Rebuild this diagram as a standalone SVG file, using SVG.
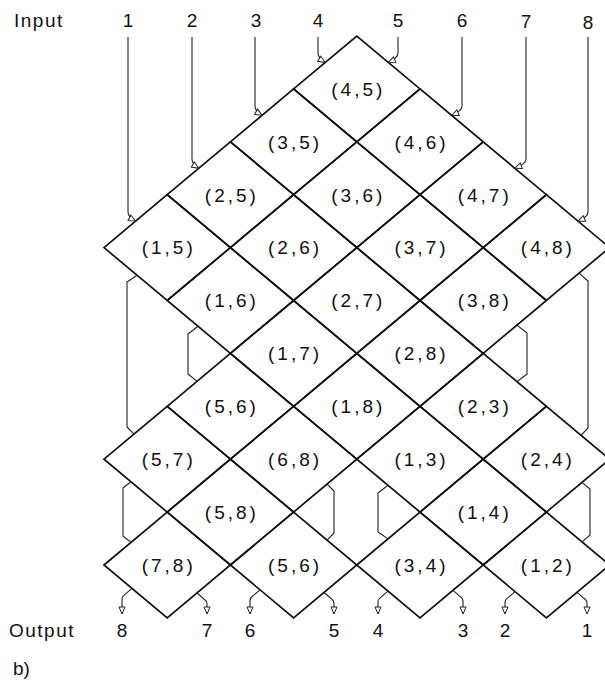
<svg xmlns="http://www.w3.org/2000/svg" width="605" height="683" viewBox="0 0 605 683">
<style>
.cell{fill:none;stroke:#111;stroke-width:1.7;stroke-linejoin:miter}
.lbl{font-family:"Liberation Sans",Arial,sans-serif;font-size:19px;letter-spacing:3px;text-anchor:middle;fill:#111}
.num{font-family:"Liberation Sans",Arial,sans-serif;font-size:19px;text-anchor:middle;fill:#111}
.cap{font-family:"Liberation Sans",Arial,sans-serif;font-size:19px;fill:#111}
.wire{fill:none;stroke:#222;stroke-width:1.1;stroke-linejoin:round}
.in{marker-end:url(#ah)}
</style>
<defs>
<marker id="ah" markerWidth="10" markerHeight="8" refX="8" refY="4" orient="auto" markerUnits="userSpaceOnUse">
<path d="M1,1 L8,4 L1,7 Z" fill="#fff" stroke="#222" stroke-width="1"/>
</marker>
</defs>
<rect width="605" height="683" fill="#fff"/>

<g id="n45"><polygon class="cell" points="293.6,88.9 356.8,36 420,88.9 356.8,141.8"/><text class="lbl" x="358.3" y="95.7">(4,5)</text></g>
<g id="n35"><polygon class="cell" points="230.4,141.8 293.6,88.9 356.8,141.8 293.6,194.7"/><text class="lbl" x="295.1" y="148.6">(3,5)</text></g>
<g id="n46"><polygon class="cell" points="356.8,141.8 420,88.9 483.2,141.8 420,194.7"/><text class="lbl" x="421.5" y="148.6">(4,6)</text></g>
<g id="n25"><polygon class="cell" points="167.2,194.7 230.4,141.8 293.6,194.7 230.4,247.6"/><text class="lbl" x="231.9" y="201.5">(2,5)</text></g>
<g id="n36"><polygon class="cell" points="293.6,194.7 356.8,141.8 420,194.7 356.8,247.6"/><text class="lbl" x="358.3" y="201.5">(3,6)</text></g>
<g id="n47"><polygon class="cell" points="420,194.7 483.2,141.8 546.4,194.7 483.2,247.6"/><text class="lbl" x="484.7" y="201.5">(4,7)</text></g>
<g id="n15"><polygon class="cell" points="104,247.6 167.2,194.7 230.4,247.6 167.2,300.5"/><text class="lbl" x="168.7" y="254.4">(1,5)</text></g>
<g id="n26"><polygon class="cell" points="230.4,247.6 293.6,194.7 356.8,247.6 293.6,300.5"/><text class="lbl" x="295.1" y="254.4">(2,6)</text></g>
<g id="n37"><polygon class="cell" points="356.8,247.6 420,194.7 483.2,247.6 420,300.5"/><text class="lbl" x="421.5" y="254.4">(3,7)</text></g>
<g id="n48"><polygon class="cell" points="483.2,247.6 546.4,194.7 609.6,247.6 546.4,300.5"/><text class="lbl" x="547.9" y="254.4">(4,8)</text></g>
<g id="n16"><polygon class="cell" points="167.2,300.5 230.4,247.6 293.6,300.5 230.4,353.4"/><text class="lbl" x="231.9" y="307.3">(1,6)</text></g>
<g id="n27"><polygon class="cell" points="293.6,300.5 356.8,247.6 420,300.5 356.8,353.4"/><text class="lbl" x="358.3" y="307.3">(2,7)</text></g>
<g id="n38"><polygon class="cell" points="420,300.5 483.2,247.6 546.4,300.5 483.2,353.4"/><text class="lbl" x="484.7" y="307.3">(3,8)</text></g>
<g id="n17"><polygon class="cell" points="230.4,353.4 293.6,300.5 356.8,353.4 293.6,406.3"/><text class="lbl" x="295.1" y="360.2">(1,7)</text></g>
<g id="n28"><polygon class="cell" points="356.8,353.4 420,300.5 483.2,353.4 420,406.3"/><text class="lbl" x="421.5" y="360.2">(2,8)</text></g>
<g id="n56a"><polygon class="cell" points="167.2,406.3 230.4,353.4 293.6,406.3 230.4,459.2"/><text class="lbl" x="231.9" y="413.1">(5,6)</text></g>
<g id="n18"><polygon class="cell" points="293.6,406.3 356.8,353.4 420,406.3 356.8,459.2"/><text class="lbl" x="358.3" y="413.1">(1,8)</text></g>
<g id="n23"><polygon class="cell" points="420,406.3 483.2,353.4 546.4,406.3 483.2,459.2"/><text class="lbl" x="484.7" y="413.1">(2,3)</text></g>
<g id="n57"><polygon class="cell" points="104,459.2 167.2,406.3 230.4,459.2 167.2,512.1"/><text class="lbl" x="168.7" y="466">(5,7)</text></g>
<g id="n68"><polygon class="cell" points="230.4,459.2 293.6,406.3 356.8,459.2 293.6,512.1"/><text class="lbl" x="295.1" y="466">(6,8)</text></g>
<g id="n13"><polygon class="cell" points="356.8,459.2 420,406.3 483.2,459.2 420,512.1"/><text class="lbl" x="421.5" y="466">(1,3)</text></g>
<g id="n24"><polygon class="cell" points="483.2,459.2 546.4,406.3 609.6,459.2 546.4,512.1"/><text class="lbl" x="547.9" y="466">(2,4)</text></g>
<g id="n58"><polygon class="cell" points="167.2,512.1 230.4,459.2 293.6,512.1 230.4,565"/><text class="lbl" x="231.9" y="518.9">(5,8)</text></g>
<g id="n14"><polygon class="cell" points="420,512.1 483.2,459.2 546.4,512.1 483.2,565"/><text class="lbl" x="484.7" y="518.9">(1,4)</text></g>
<g id="n78"><polygon class="cell" points="104,565 167.2,512.1 230.4,565 167.2,617.9"/><text class="lbl" x="168.7" y="571.8">(7,8)</text></g>
<g id="n56b"><polygon class="cell" points="230.4,565 293.6,512.1 356.8,565 293.6,617.9"/><text class="lbl" x="295.1" y="571.8">(5,6)</text></g>
<g id="n34"><polygon class="cell" points="356.8,565 420,512.1 483.2,565 420,617.9"/><text class="lbl" x="421.5" y="571.8">(3,4)</text></g>
<g id="n12"><polygon class="cell" points="483.2,565 546.4,512.1 609.6,565 546.4,617.9"/><text class="lbl" x="547.9" y="571.8">(1,2)</text></g>

<g id="connectors">
<path class="wire in" d="M128,37 V212 Q128,217 135.6,221.2"/>
<path class="wire in" d="M192,37 V159 Q192,164 198.8,168.3"/>
<path class="wire in" d="M255,37 V106 Q255,111 262,115.4"/>
<path class="wire in" d="M318,37 V53 Q318,58 325.2,62.5"/>
<path class="wire in" d="M398,37 V53 Q398,58 388.4,62.5"/>
<path class="wire in" d="M462,37 V106 Q462,111 451.6,115.4"/>
<path class="wire in" d="M526,37 V159 Q526,164 514.8,168.3"/>
<path class="wire in" d="M588,37 V212 Q588,217 578,221.2"/>

<path class="wire in" d="M132,588.4 L125,594.4 Q122,596.4 122,599.4 V614"/>
<path class="wire in" d="M197,593 L204,599 Q207,601 207,604 V614"/>
<path class="wire in" d="M260,589.8 L253,595.8 Q250,597.8 250,600.8 V614"/>
<path class="wire in" d="M324,592.5 L331,598.5 Q334,600.5 334,603.5 V614"/>
<path class="wire in" d="M388,591.1 L381,597.1 Q378,599.1 378,602.1 V614"/>
<path class="wire in" d="M453,590.3 L460,596.3 Q463,598.3 463,601.3 V614"/>
<path class="wire in" d="M515,591.6 L508,597.6 Q505,599.6 505,602.6 V614"/>
<path class="wire in" d="M577,592.3 L584,598.3 Q587,600.3 587,603.3 V614"/>

<polyline class="wire" points="137,275.2 127,282 127,427 134,434.1"/>
<polyline class="wire" points="198,326.3 188,334 188,374 197,381.4"/>
<polyline class="wire" points="517,325.1 527,333 527,374 517,381.7"/>
<polyline class="wire" points="579,273.2 588,281 588,428 581,435.3"/>
<polyline class="wire" points="327,484.1 334,491 334,533 327,540.1"/>
<polyline class="wire" points="388,485.3 378,493 378,532 388,538.9"/>
<polyline class="wire" points="131,481.8 123,488 123,536 131,542.4"/>
<polyline class="wire" points="582,482.3 590,489 590,535 582,541.9"/>
</g>

<g id="labels">
<text class="cap" x="14" y="27" letter-spacing="1.5">Input</text>
<text class="num" x="128" y="27">1</text>
<text class="num" x="192" y="27">2</text>
<text class="num" x="256" y="27">3</text>
<text class="num" x="318" y="27">4</text>
<text class="num" x="398" y="27">5</text>
<text class="num" x="462" y="27">6</text>
<text class="num" x="526" y="28">7</text>
<text class="num" x="588" y="29">8</text>
<text class="cap" x="9" y="637" letter-spacing="1.5">Output</text>
<text class="num" x="122" y="637">8</text>
<text class="num" x="207" y="637">7</text>
<text class="num" x="250" y="637">6</text>
<text class="num" x="334" y="637">5</text>
<text class="num" x="378" y="637">4</text>
<text class="num" x="463" y="637">3</text>
<text class="num" x="505" y="637">2</text>
<text class="num" x="587" y="637">1</text>
<text class="cap" x="13" y="675">b)</text>
</g>
</svg>
